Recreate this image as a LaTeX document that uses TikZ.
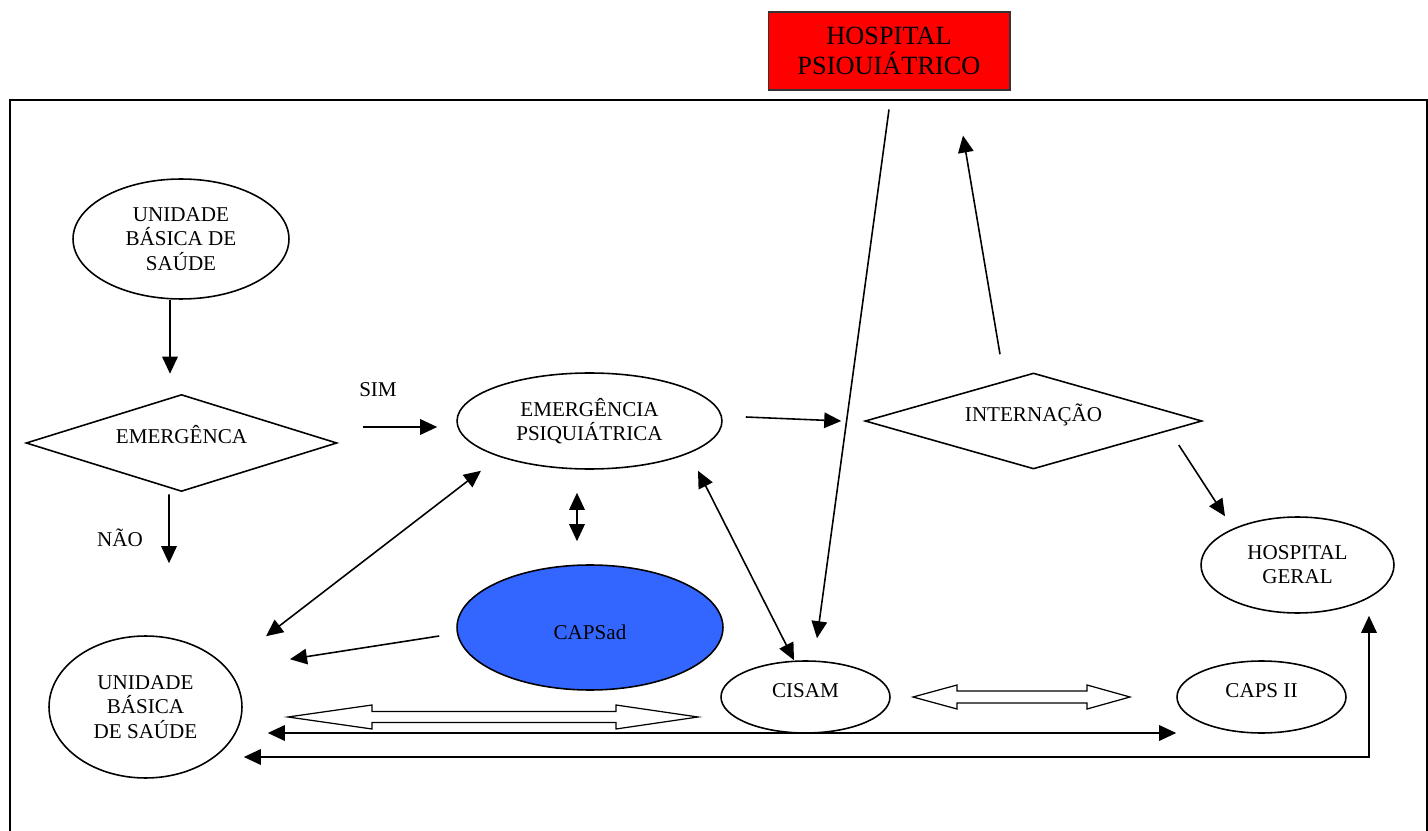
\documentclass[tikz,border=0pt]{standalone}
\usepackage{fontspec}
\setmainfont{Liberation Serif}
\usetikzlibrary{shapes.geometric,arrows.meta,calc}
\definecolor{capsblue}{RGB}{51,102,255}
\begin{document}
\begin{tikzpicture}[->,>={Triangle[length=3.4mm,width=3.1mm]},x=0.02cm,y=-0.02cm,line width=0.9pt]
      \tikzstyle{elip}=[ellipse,draw=black,inner sep=0pt,align=center,font=\fontsize{12pt}{13.8pt}\selectfont];
      \tikzstyle{losango}=[diamond,draw=black,inner sep=0pt,text height=8pt,text depth=8pt,font=\fontsize{12pt}{13.8pt}\selectfont];
      \tikzstyle{rotulo}=[font=\fontsize{12pt}{13.8pt}\selectfont];
      \useasboundingbox (0,0) rectangle (1428,831);

      \draw (10,100) rectangle (1427,860);

      \node[draw=black!80,fill=red,line width=0.6pt,minimum width=4.84cm,minimum height=1.56cm,align=center,font=\fontsize{15pt}{17pt}\selectfont](HP) at (889,51) {HOSPITAL\\PSIOUIÁTRICO};
      \node[elip,minimum width=4.32cm,minimum height=2.40cm](UBS) at (181,239) {UNIDADE\\BÁSICA DE\\SAÚDE};
      \node[losango,aspect=3.2,minimum width=6.22cm,minimum height=1.94cm](EMG) at (181.5,443) {EMERGÊNCA};
      \node[elip,minimum width=5.30cm,minimum height=1.92cm](EP) at (589.5,421) {EMERGÊNCIA\\PSIQUIÁTRICA};
      \node[losango,aspect=3.5,minimum width=6.74cm,minimum height=1.92cm](INT) at (1033.5,421) {INTERNAÇÃO};
      \node[elip,minimum width=3.86cm,minimum height=1.92cm](HG) at (1297.5,565) {HOSPITAL\\GERAL};
      \node[elip,minimum width=3.86cm,minimum height=2.84cm](UBS2) at (145.5,707) {UNIDADE\\BÁSICA\\DE SAÚDE};
      \node[elip,fill=capsblue,text height=14pt,text depth=0pt,minimum width=5.32cm,minimum height=2.50cm](CAD) at (590,627.5) {CAPSad};
      \node[elip,text height=8pt,text depth=8pt,minimum width=3.38cm,minimum height=1.44cm](CIS) at (805.5,697) {CISAM};
      \node[elip,text height=8pt,text depth=8pt,minimum width=3.38cm,minimum height=1.44cm](CII) at (1261.5,697) {CAPS II};
      \node[rotulo](SIM) at (378,390) {SIM};
      \node[rotulo](NAO) at (120,538) {NÃO};

      \path ($(UBS.south)+(-11,0)$) edge ($(EMG.north)+(-11.5,-20)$);
      \path ($(EMG.east)+(25,-16)$) edge ($(EP.west)+(-19,6)$);
      \path ($(EMG.south)+(-12.5,2)$) edge ($(UBS2.north)+(23.5,-72)$);
      \path ($(EP.east)+(23,-4)$) edge ($(INT.west)+(-23,0)$);
      \path ($(INT.north)+(-33.5,-18)$) edge ($(HP.south)+(74,45)$);
      \path ($(HP.south)+(0,19)$) edge ($(CIS.north)+(11.5,-22)$);
      \path ($(INT.east)+(-24,24)$) edge ($(HG.north)+(-72.5,0)$);
      \path ($(EP.south)+(-12.5,23)$) edge[<->] ($(CAD.north)+(-13,-23)$);
      \path ($(EP.south)+(-108.5,1)$) edge[<->] ($(UBS2.north)+(120.5,1)$);
      \path ($(CAD.west)+(-17,8.5)$) edge ($(UBS2.north)+(144.5,24)$);
      \path ($(EP.south)+(108.5,1)$) edge[<->] ($(CIS.north)+(-11.5,0)$);
      \path ($(UBS2.east)+(25,26)$) edge[<->] ($(CII.west)+(0,36)$);
      \draw[<->] ($(UBS2.east)+(1,50)$) -| ($(HG.south)+(71.5,2)$);

      % setas duplas vazadas
      \draw[line width=0.7pt] (288,717) -- (372,705) -- (372,711.5) -- (616,711.5) -- (616,705) -- (698,717) -- (616,729) -- (616,722.5) -- (372,722.5) -- (372,729) -- cycle;
      \draw[line width=0.7pt] (913,697) -- (957,685) -- (957,691) -- (1087,691) -- (1087,685) -- (1130,697) -- (1087,709) -- (1087,703) -- (957,703) -- (957,709) -- cycle;

    \end{tikzpicture}
\end{document}
